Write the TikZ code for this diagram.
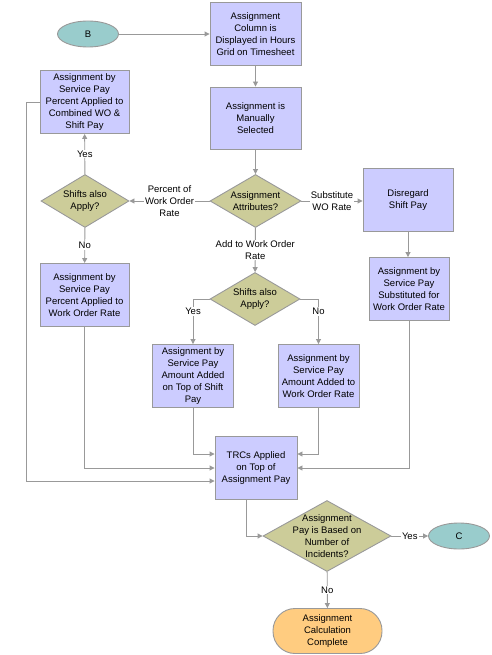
\documentclass[tikz,border=0pt]{standalone}
\usepackage{fontspec}
\setmainfont{Liberation Sans}
\usetikzlibrary{shapes.geometric,arrows.meta}
\definecolor{boxfill}{HTML}{CCCCFF}
\definecolor{askfill}{HTML}{CCCC99}
\definecolor{ovalfill}{HTML}{99CCCC}
\definecolor{endfill}{HTML}{FFCC80}
\definecolor{edge}{HTML}{999999}
\begin{document}
\begin{tikzpicture}[
    x=1pt, y=-1pt,
    every node/.style={font=\fontsize{9.5}{12}\selectfont, align=center, inner sep=0pt},
    box/.style={draw=edge, fill=boxfill, line width=0.9pt, minimum width=#1, minimum height=63pt},
    ask/.style={draw=edge, fill=askfill, line width=0.9pt, shape=diamond, minimum width=#1, minimum height=53pt},
    oval/.style={draw=edge, fill=ovalfill, line width=0.9pt, shape=ellipse, minimum width=61pt, minimum height=26pt},
    finish/.style={draw=edge, fill=endfill, line width=0.9pt, rounded corners=22pt, minimum width=109pt, minimum height=45pt},
    lbl/.style={fill=white, inner sep=1pt},
    flow/.style={draw=edge, line width=0.9pt, -{Triangle[length=5pt,width=5pt]}}
]
\useasboundingbox (0,0) rectangle (491,655);

\node[oval] (b) at (88,34) {B};
\node[box=91pt] (column) at (255.5,34) {Assignment\\Column is\\Displayed in Hours\\Grid on Timesheet};
\node[box=91pt, minimum height=62pt] (manual) at (255.5,118) {Assignment is\\Manually\\Selected};
\node[ask=91pt] (attr) at (255.5,201) {};
\node (attrtxt) at (attr) {Assignment\\Attributes?};
\node[ask=88pt] (shiftl) at (85,201) {};
\node (shiftltxt) at (shiftl) {Shifts also\\Apply?};
\node[box=89pt] (combined) at (84.5,102) {Assignment by\\Service Pay\\Percent Applied to\\Combined WO \&\\Shift Pay};
\node[box=89pt] (percent) at (84.5,295) {Assignment by\\Service Pay\\Percent Applied to\\Work Order Rate};
\node[box=90pt] (disregard) at (408,200) {Disregard\\Shift Pay};
\node[box=80pt] (subst) at (409,289) {Assignment by\\Service Pay\\Substituted for\\Work Order Rate};
\node[ask=90pt] (shiftm) at (255,299) {};
\node (shiftmtxt) at (shiftm) {Shifts also\\Apply?};
\node[box=81pt] (ontop) at (193,376) {Assignment by\\Service Pay\\Amount Added\\on Top of Shift\\Pay};
\node[box=81pt] (addwo) at (318.5,376) {Assignment by\\Service Pay\\Amount Added to\\Work Order Rate};
\node[box=82pt] (trc) at (256,468) {TRCs Applied\\on Top of\\Assignment Pay};
\node[ask=128pt, minimum height=71pt] (incid) at (327,536) {};
\node (incidtxt) at (incid) {Assignment\\Pay is Based on\\Number of\\Incidents?};
\node[oval] (c) at (459,536) {C};
\node[finish] (done) at (327.5,631) {Assignment\\Calculation\\Complete};

\draw[flow] (b) -- (b -| column.west);
\draw[flow] (column) -- (manual);
\draw[flow] (manual) -- (attr);
\draw[flow] (attr) -- node[lbl] {Percent of\\Work Order\\Rate} (shiftl);
\draw[flow] (attr) -- node[lbl] {Substitute\\WO Rate} (attr -| disregard.west);
\draw[flow] (attr) -- node[lbl] {Add to Work Order\\Rate} (shiftm);
\draw[flow] (shiftl) -- node[lbl] {Yes} (combined);
\draw[flow] (shiftl) -- node[lbl] {No} (percent);
\draw[flow] (disregard) -- (disregard |- subst.north);
\draw[flow] (shiftm.west) -| node[lbl, pos=0.64] {Yes} (ontop.north);
\draw[flow] (shiftm.east) -| node[lbl, pos=0.64] {No} (addwo.north);
\draw[flow] (ontop) |- ([yshift=14pt]trc.west);
\draw[flow] (percent) |- (trc.west);
\draw[flow] (combined.west) -- ++(-13,0) |- ([yshift=-13pt]trc.west);
\draw[flow] (addwo) |- ([yshift=14pt]trc.east);
\draw[flow] (subst) |- (trc.east);
\draw[flow] ([xshift=-10pt]trc.south) |- (incid.west);
\draw[flow] (incid) -- node[lbl] {Yes} (c);
\draw[flow] (incid) -- node[lbl] {No} (done);
\end{tikzpicture}
\end{document}
